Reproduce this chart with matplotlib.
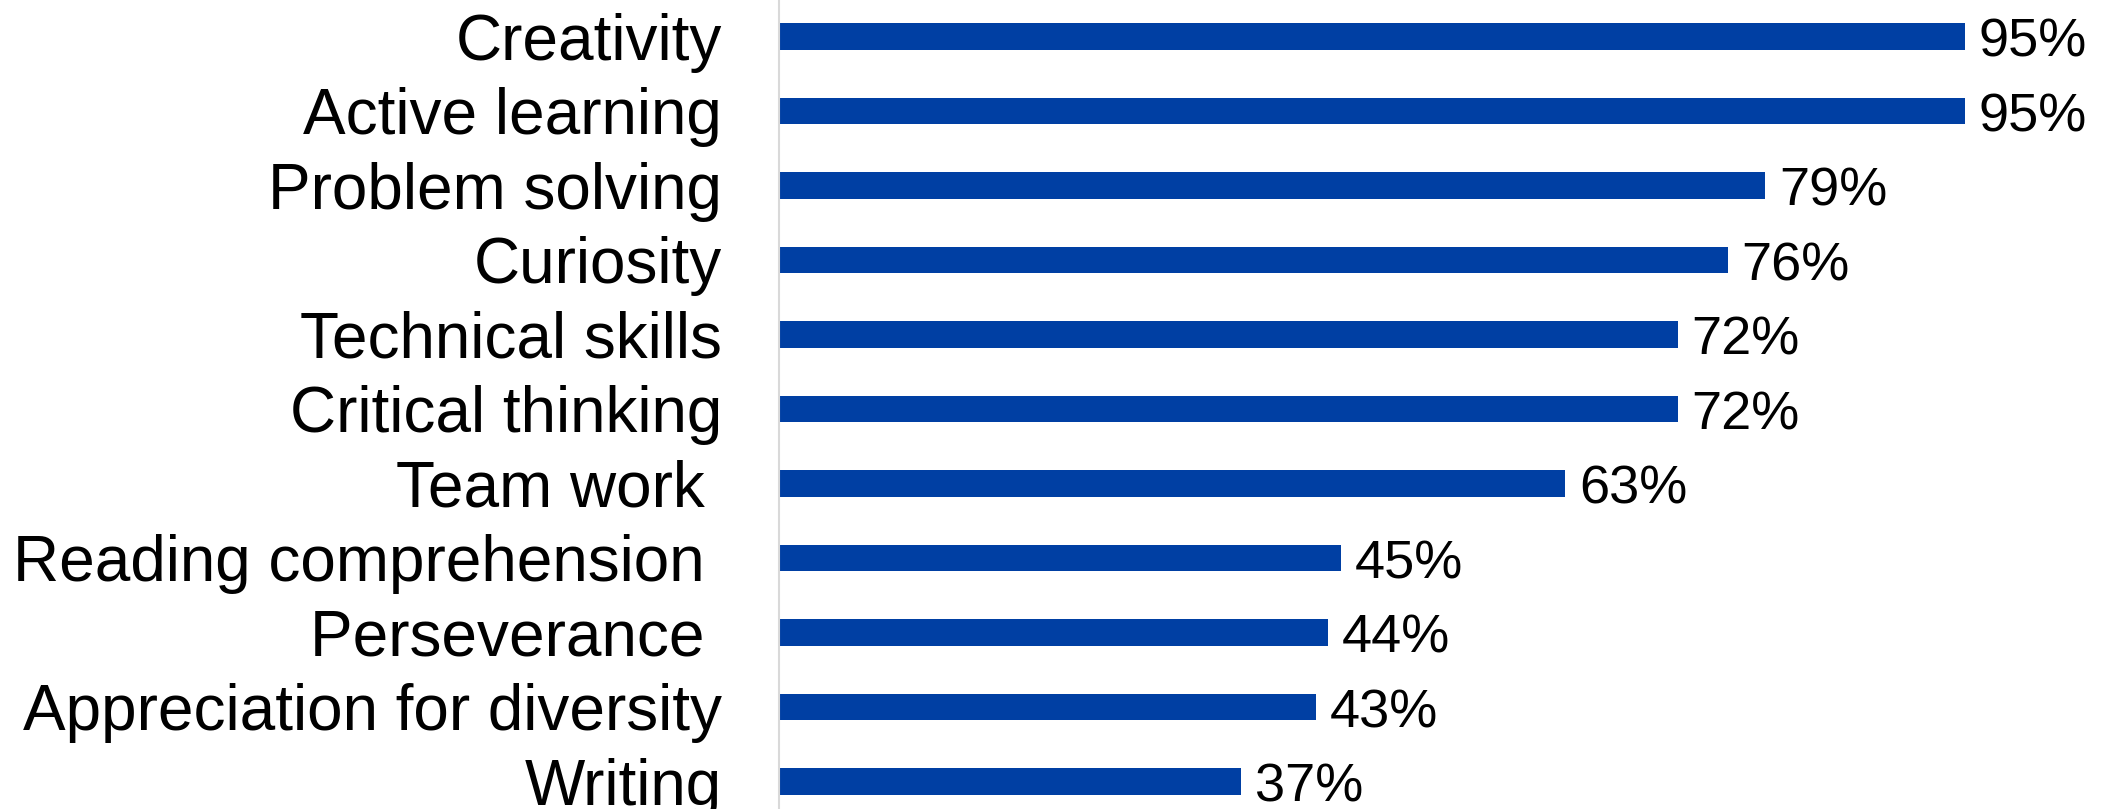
import matplotlib
matplotlib.use("Agg")
import matplotlib.pyplot as plt

# skills, top to bottom
skills = ["Creativity", "Active learning", "Problem solving", "Curiosity",
          "Technical skills", "Critical thinking", "Team work ",
          "Reading comprehension ", "Perseverance ", "Appreciation for diversity",
          "Writing"]
pct = [95, 95, 79, 76, 72, 72, 63, 45, 44, 43, 37]

plt.rcParams['font.family'] = ['Liberation Sans', 'DejaVu Sans']

fig = plt.figure(figsize=(21.07, 8.09), dpi=100)
ax = fig.add_axes([779 / 2107, 0, 1 - 779 / 2107, 1])

y = list(range(len(skills)))
ax.barh(y, pct, height=0.36, color='#003FA3')

for yi, v in zip(y, pct):
    ax.annotate(f"{v}%", (v, yi), xytext=(10, -0.5), textcoords='offset points',
                va='center_baseline', ha='left', fontsize=39)

ax.set_yticks(y)
ax.set_yticklabels(skills, fontsize=46)
ax.tick_params(axis='y', length=0, pad=41)
ax.set_xticks([])
ax.set_xlim(0, 106.4)
ax.set_ylim(10.37, -0.49)

for s in ['top', 'right', 'bottom']:
    ax.spines[s].set_visible(False)
ax.spines['left'].set_color('#D9D9D9')
ax.spines['left'].set_linewidth(1.5)

fig.savefig("out.png", dpi=100)
